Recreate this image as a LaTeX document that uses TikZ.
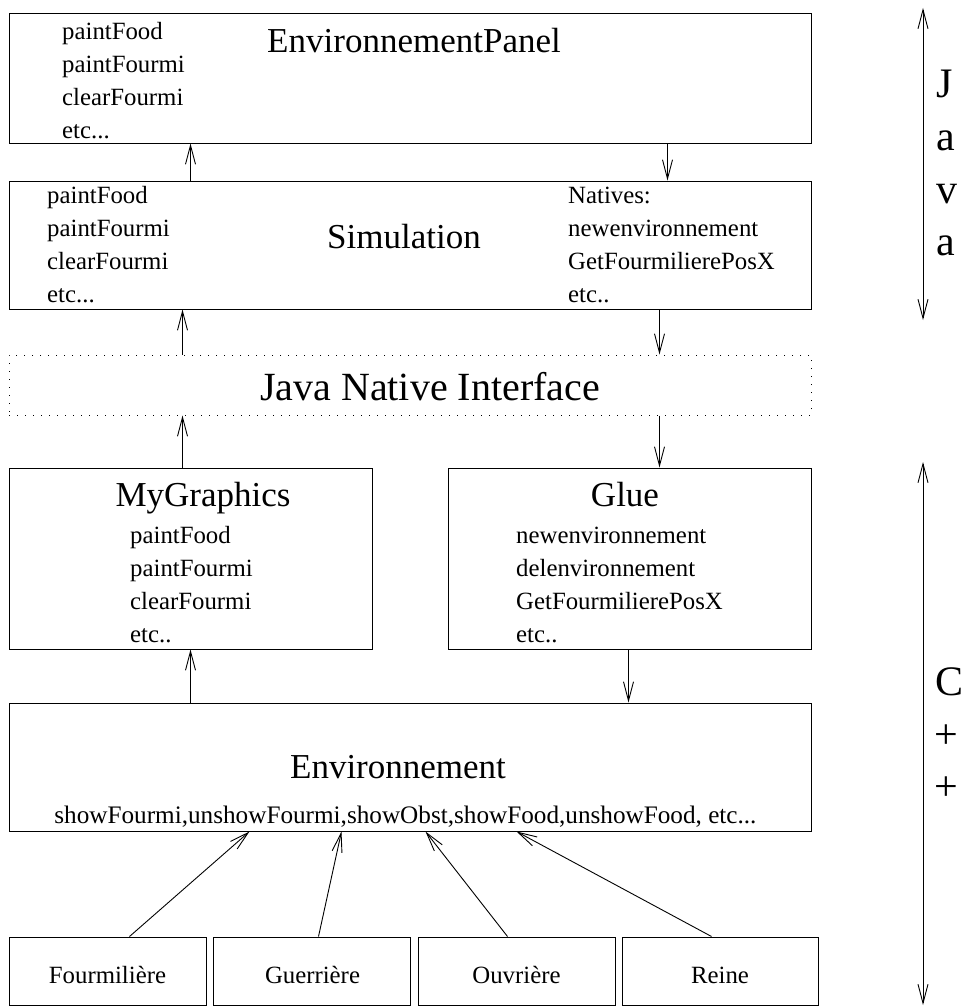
\documentclass[tikz,border=0pt]{standalone}
\usepackage{fontspec}
\setmainfont{Liberation Serif}
\usetikzlibrary{arrows.meta,calc}
\begin{document}
\begin{tikzpicture}[x=1pt,y=-1pt,
  box/.style={draw, line width=1pt, inner sep=0pt, rectangle},
  dotbox/.style={draw, line width=1pt, inner sep=0pt, rectangle, dash pattern=on 1.2pt off 6.8pt},
  arr/.style={line width=0.9pt, -{Straight Barb[length=19pt,width=10pt]}},
  dbl/.style={line width=0.9pt, {Straight Barb[length=19pt,width=10pt]}-{Straight Barb[length=19pt,width=10pt]}},
  lst/.style={font=\fontsize{24.8}{33}\selectfont, inner sep=0pt, align=left, anchor=north west},
  small/.style={font=\fontsize{24.8}{33}\selectfont, inner sep=0pt, anchor=base},
  ttl/.style={font=\fontsize{35}{40}\selectfont, inner sep=0pt, anchor=base},
  big/.style={font=\fontsize{40}{46}\selectfont, inner sep=0pt, anchor=base},
  side/.style={font=\fontsize{42}{52}\selectfont, inner sep=0pt, anchor=base west}
]
\useasboundingbox (0,0) rectangle (962,1006);

% boxes
\node[box, minimum width=802pt, minimum height=129pt] (panel) at (410,78.5) {};
\node[box, minimum width=802pt, minimum height=128pt] (sim) at (410,245) {};
\node[dotbox, minimum width=802pt, minimum height=60pt] (jni) at (410,385) {};
\node[box, minimum width=363pt, minimum height=181pt] (mygr) at (190.5,558.5) {};
\node[box, minimum width=363pt, minimum height=181pt] (glue) at (629.5,558.5) {};
\node[box, minimum width=802pt, minimum height=128pt] (env) at (410,767) {};
\node[box, minimum width=197pt, minimum height=68pt] (fourm) at (107.5,971) {};
\node[box, minimum width=197pt, minimum height=68pt] (guer) at (311.5,971) {};
\node[box, minimum width=197pt, minimum height=68pt] (ouv) at (516.5,971) {};
\node[box, minimum width=196pt, minimum height=68pt] (reine) at (720,971) {};

% titles
\node[ttl] (tpanel) at (414,53) {EnvironnementPanel};
\node[ttl] (tsim) at (404,248) {Simulation};
\node[big] (tjni) at (430,400) {Java Native Interface};
\node[ttl] (tmygr) at (203,506) {MyGraphics};
\node[ttl] (tglue) at (625,506) {Glue};
\node[ttl] (tenv) at (398,778) {Environnement};

% lists
\node[lst] (lpanel) at (62,21.8) {paintFood\\paintFourmi\\clearFourmi\\etc...};
\node[lst] (lsim) at (47,186.5) {paintFood\\paintFourmi\\clearFourmi\\etc...};
\node[lst] (lnat) at (568,186.5) {Natives:\\newenvironnement\\GetFourmilierePosX\\etc..};
\node[lst] (lmygr) at (130,526.5) {paintFood\\paintFourmi\\clearFourmi\\etc..};
\node[lst] (lglue) at (516,526.5) {newenvironnement\\delenvironnement\\GetFourmilierePosX\\etc..};
\node[small, font=\fontsize{25.2}{33}\selectfont] (lenv) at (405.5,823) {showFourmi,unshowFourmi,showObst,showFood,unshowFood, etc...};

% bottom labels
\node[small] (tfourm) at (107.5,983) {Fourmilière};
\node[small] (tguer) at (312.5,983) {Guerrière};
\node[small] (touv) at (516.5,983) {Ouvrière};
\node[small] (treine) at (720,983) {Reine};

% side labels
\node[side] (j1) at (936,98) {J};
\node[side] (j2) at (936,150) {a};
\node[side] (j3) at (936,203) {v};
\node[side] (j4) at (936,255) {a};
\node[side] (c1) at (935,695) {C};
\node[side] (c2) at (934,748) {+};
\node[side] (c3) at (934,800) {+};

\coordinate (jt) at (923,8);
\coordinate (jb) at (923,320);
\coordinate (ct) at (923,462);
\coordinate (cb) at (923,1005);
\draw[dbl] (jt) -- (jb);
\draw[dbl] (ct) -- (cb);

% vertical connectors
\draw[arr] ($(sim.north west)+(182,0)$) -- ($(panel.south west)+(182,0)$);
\draw[arr] ($(panel.south west)+(659,0)$) -- ($(sim.north west)+(659,0)$);
\draw[arr] ($(jni.north west)+(174,0)$) -- ($(sim.south west)+(174,0)$);
\draw[arr] ($(sim.south west)+(651,0)$) -- ($(jni.north west)+(651,0)$);
\draw[arr] ($(mygr.north west)+(174,0)$) -- ($(jni.south west)+(174,0)$);
\draw[arr] ($(jni.south west)+(651,0)$) -- ($(glue.north west)+(212,0)$);
\draw[arr] ($(env.north west)+(182,0)$) -- ($(mygr.south west)+(182,0)$);
\draw[arr] ($(glue.south west)+(181,0)$) -- ($(env.north west)+(620,0)$);

% bottom connectors
\draw[arr] ($(fourm.north west)+(121,0)$) -- ($(env.south west)+(241,0)$);
\draw[arr] ($(guer.north west)+(106,0)$) -- ($(env.south west)+(333,0)$);
\draw[arr] ($(ouv.north west)+(90,0)$) -- ($(env.south west)+(417,0)$);
\draw[arr] ($(reine.north west)+(90,0)$) -- ($(env.south west)+(508,0)$);
\end{tikzpicture}
\end{document}
